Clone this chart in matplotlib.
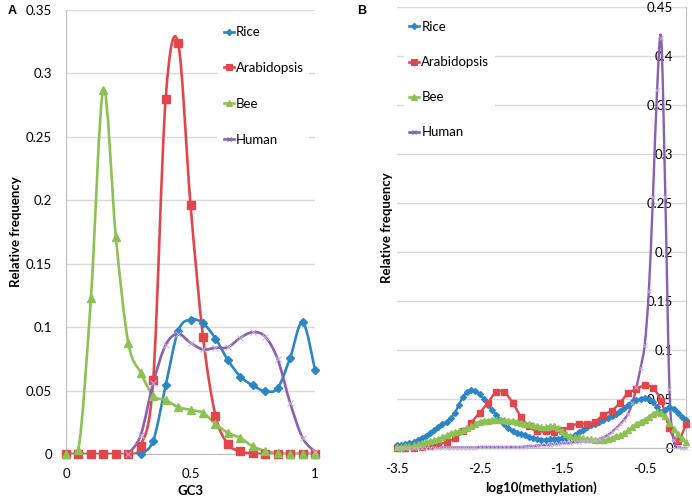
import numpy as np
import matplotlib
matplotlib.use("Agg")
import matplotlib.pyplot as plt
from matplotlib.path import Path
from matplotlib.patches import PathPatch
from matplotlib.lines import Line2D
from matplotlib.ticker import FuncFormatter, MultipleLocator

plt.rcParams['font.family'] = ['Lato', 'DejaVu Sans']

# ---- panel A : GC3 ----
gc3_x = [0, 0.05, 0.1, 0.15, 0.2, 0.25, 0.3, 0.35, 0.4, 0.45, 0.5,
         0.55, 0.6, 0.65, 0.7, 0.75, 0.8, 0.85, 0.9, 0.95, 1.0]
gc3_rice = [None, None, None, None, None, None, 0.0, 0.0105, 0.054, 0.097, 0.106,
            0.103, 0.091, 0.074, 0.061, 0.054, 0.0495, 0.052, 0.076, 0.104, 0.066]
gc3_arab = [0, 0, 0, 0, 0, 0, 0.0066, 0.0587, 0.280, 0.324, 0.196,
            0.0924, 0.0303, 0.0079, 0.002, 0.0005, 0, 0, 0, 0, 0]
gc3_bee = [0, 0.0034, 0.123, 0.287, 0.171, 0.0876, 0.064, 0.046, 0.0424, 0.037, 0.0347,
           0.0324, 0.0237, 0.0166, 0.0126, 0.006, 0.0024, 0.0005, 0, 0, 0]
gc3_human = [None, None, None, None, None, 0.0, 0.015, 0.056, 0.086, 0.0947, 0.0876,
             0.0824, 0.0837, 0.0842, 0.0916, 0.096, 0.0924, 0.0745, 0.040, 0.0126, 0.0016]

# ---- panel B : log10(methylation) ----
meth_x = [round(-3.5 + 0.05 * i, 2) for i in range(71)]
meth_x10 = [round(-3.5 + 0.1 * i, 1) for i in range(36)]
meth_rice = [0.003, 0.003, 0.004, 0.005, 0.006, 0.008, 0.010, 0.012, 0.015, 0.018,
             0.021, 0.024, 0.027, 0.031, 0.036, 0.044, 0.052, 0.057, 0.059, 0.058,
             0.055, 0.050, 0.044, 0.039, 0.034, 0.029, 0.024, 0.020, 0.017, 0.015,
             0.014, 0.013, 0.011, 0.010, 0.009, 0.0085, 0.0085, 0.009, 0.009, 0.0095,
             0.010, 0.010, 0.011, 0.013, 0.016, 0.018, 0.021, 0.023, 0.025, 0.027,
             0.029, 0.031, 0.033, 0.035, 0.038, 0.041, 0.044, 0.047, 0.049, 0.050,
             0.051, 0.050, 0.047, 0.042, 0.037, 0.039, 0.042, 0.040, 0.036, 0.032,
             0.029]
meth_arab = [0.0, 0.0, 0.0, 0.001, 0.002, 0.004, 0.006, 0.010, 0.017, 0.026,
             0.036, 0.046, 0.057, 0.057, 0.046, 0.032, 0.022, 0.017, 0.017, 0.016,
             0.018, 0.022, 0.025, 0.025, 0.027, 0.034, 0.038, 0.046, 0.056, 0.060,
             0.064, 0.061, 0.048, 0.020, 0.007, 0.024]
meth_bee = [0.001, 0.001, 0.002, 0.002, 0.003, 0.004, 0.005, 0.006, 0.007, 0.008,
            0.009, 0.011, 0.013, 0.015, 0.016, 0.017, 0.018, 0.020, 0.022, 0.025,
            0.027, 0.028, 0.028, 0.029, 0.029, 0.029, 0.029, 0.028, 0.028, 0.027,
            0.026, 0.025, 0.024, 0.023, 0.022, 0.021, 0.021, 0.022, 0.022, 0.020,
            0.017, 0.014, 0.012, 0.011, 0.011, 0.010, 0.009, 0.009, 0.008, 0.008,
            0.008, 0.009, 0.010, 0.012, 0.013, 0.015, 0.018, 0.021, 0.025, 0.027,
            0.029, 0.032, 0.035, 0.037, 0.036, 0.033, 0.026, 0.019, 0.014, 0.010,
            0.006]
meth_human = [0.0005] * 20 + [0.001] * 11 + [
              0.0015, 0.002, 0.002, 0.0025, 0.003, 0.003, 0.0035, 0.004, 0.0045,
              0.005, 0.005, 0.0055, 0.006, 0.0065, 0.007, 0.0075, 0.008, 0.008, 0.009,
              0.011, 0.013, 0.016, 0.020, 0.024, 0.029, 0.035, 0.046, 0.062, 0.082,
              0.105, 0.160, 0.256, 0.365, 0.418, 0.256, 0.060, 0.008, 0.001, 0.0, 0.0]

labels = ['Rice', 'Arabidopsis', 'Bee', 'Human']
colors = ['#2D86C4', '#E0474C', '#8DC153', '#8A5FB0']
markers = ['D', 's', '^', 'x']
msizes_a = [4, 6, 6, 4]
msizes_b = [3, 5, 4, 3]


def smooth_path(xs, ys):
    # Excel-like smoothed line: Catmull-Rom segments as cubic Beziers
    pts = np.array([(a, b) for a, b in zip(xs, ys) if b is not None], float)
    n = len(pts)
    verts, codes = [pts[0]], [Path.MOVETO]
    for i in range(n - 1):
        p0 = pts[i - 1] if i > 0 else pts[i]
        p1, p2 = pts[i], pts[i + 1]
        p3 = pts[i + 2] if i + 2 < n else p2
        verts += [p1 + (p2 - p0) / 6, p2 - (p3 - p1) / 6, p2]
        codes += [Path.CURVE4] * 3
    return Path(verts, codes)


def draw_series(ax, xs, ys, k, ms, lw):
    ax.add_patch(PathPatch(smooth_path(xs, ys), fill=False, edgecolor=colors[k],
                           lw=lw, zorder=3, capstyle='round'))
    px = [a for a, b in zip(xs, ys) if b is not None]
    py = [b for b in ys if b is not None]
    if markers[k] == 'x':
        ax.plot(px, py, 'x', color='#C9AEE3', ms=ms, mew=0.7, zorder=4, clip_on=False)
    else:
        ax.plot(px, py, markers[k], color=colors[k], ms=ms, mec=colors[k],
                zorder=4, clip_on=False)


def handles():
    return [Line2D([], [], color=c, lw=1.9, marker=m, ms=s * 0.8, mew=0.8)
            for c, m, s in zip(colors, markers, msizes_a)]


fmt = FuncFormatter(lambda v, p: '%g' % round(v, 3))
grid_c = '#D9D9D9'
axis_c = '#BFBFBF'

fig = plt.figure(figsize=(6.92, 5.0), dpi=100)

# ---------- A ----------
axA = fig.add_axes([0.0954, 0.092, 0.360, 0.888])
for k, ys in enumerate([gc3_rice, gc3_arab, gc3_bee, gc3_human]):
    draw_series(axA, gc3_x, ys, k, msizes_a[k], 1.9)
axA.set_xlim(0, 1)
axA.set_ylim(0, 0.35)
axA.yaxis.set_major_locator(MultipleLocator(0.05))
axA.xaxis.set_major_locator(MultipleLocator(0.5))
axA.yaxis.set_major_formatter(fmt)
axA.xaxis.set_major_formatter(fmt)
axA.grid(axis='y', color=grid_c, lw=1)
axA.set_axisbelow(True)
for s in ['top', 'right']:
    axA.spines[s].set_visible(False)
for s in ['left', 'bottom']:
    axA.spines[s].set_color(axis_c)
axA.tick_params(axis='y', length=0, pad=10, labelsize=9.5)
axA.tick_params(axis='x', length=0, pad=10, labelsize=9.5)
axA.set_xlabel('GC3', fontsize=9.5, fontweight='bold', labelpad=4)
axA.set_ylabel('Relative frequency', fontsize=9.5, fontweight='bold', labelpad=2.5)
legA = axA.legend(handles(), labels, loc='upper left', bbox_to_anchor=(0.585, 0.99),
                  frameon=True, facecolor='white', edgecolor='none', framealpha=1,
                  handlelength=0.8, handletextpad=0.15, labelspacing=1.8,
                  fontsize=9.5, borderpad=0.4)
fig.text(0.011, 0.978, 'A', fontsize=9, fontweight='bold', family='Liberation Sans',
         va='center')

# ---------- B ----------
axB = fig.add_axes([0.5737, 0.104, 0.4176, 0.882])
for k, (xs, ys) in enumerate([(meth_x, meth_rice), (meth_x10, meth_arab),
                              (meth_x, meth_bee), (meth_x, meth_human)]):
    draw_series(axB, xs, ys, k, msizes_b[k], 1.7)
axB.set_xlim(-3.5, 0)
axB.set_ylim(0, 0.45)
axB.yaxis.set_major_locator(MultipleLocator(0.05))
axB.set_xticks([-3.5, -2.5, -1.5, -0.5])
axB.yaxis.set_major_formatter(fmt)
axB.xaxis.set_major_formatter(fmt)
axB.grid(axis='y', color=grid_c, lw=1)
axB.set_axisbelow(True)
axB.yaxis.tick_right()
for s in ['top', 'left']:
    axB.spines[s].set_visible(False)
for s in ['right', 'bottom']:
    axB.spines[s].set_color(axis_c)
axB.tick_params(axis='y', length=0, pad=-9.5, labelsize=9.5)
for t in axB.get_yticklabels():
    t.set_horizontalalignment('right')
axB.tick_params(axis='x', length=0, pad=11, labelsize=9.5)
axB.set_xlabel('log10(methylation)', fontsize=9.5, fontweight='bold', labelpad=4)
axB.yaxis.set_label_position('left')
axB.set_ylabel('Relative frequency', fontsize=9.5, fontweight='bold', labelpad=3)
legB = axB.legend(handles(), labels, loc='upper left', bbox_to_anchor=(0.0, 0.995),
                  frameon=True, facecolor='white', edgecolor='none', framealpha=1,
                  handlelength=0.8, handletextpad=0.15, labelspacing=1.75,
                  fontsize=9.5, borderpad=0.4)
fig.text(0.516, 0.978, 'B', fontsize=9, fontweight='bold', family='Liberation Sans',
         va='center')

fig.savefig('out.png', dpi=100)
